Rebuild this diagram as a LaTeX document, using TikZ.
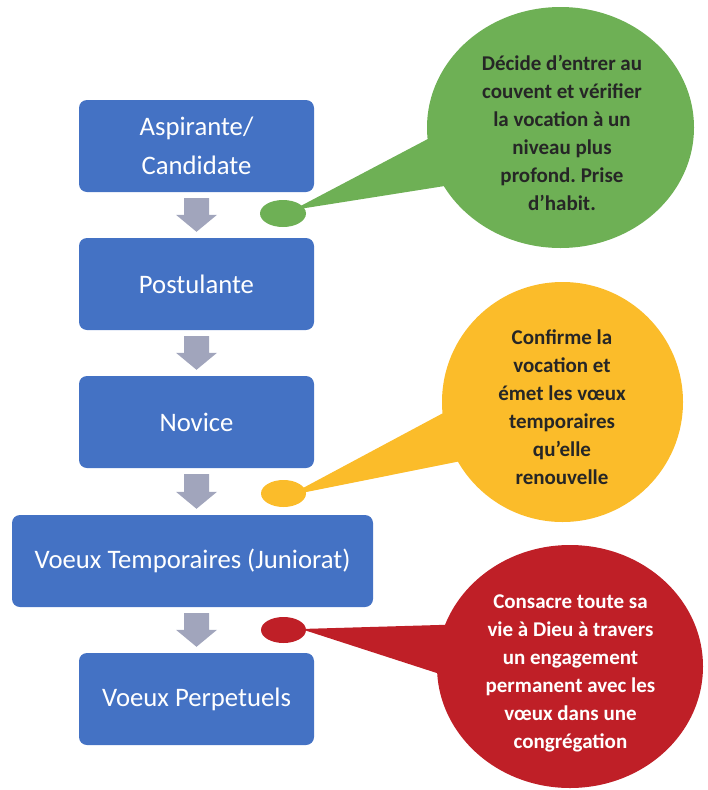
\documentclass[tikz,border=0pt]{standalone}
\usepackage{fontspec}
\setmainfont{Carlito}
\usetikzlibrary{shapes.geometric,calc}
\definecolor{boxblue}{RGB}{68,114,196}
\definecolor{arrowgrey}{RGB}{161,165,188}
\definecolor{cgreen}{RGB}{110,176,85}
\definecolor{corange}{RGB}{251,188,42}
\definecolor{cred}{RGB}{191,31,39}
\definecolor{ctext}{RGB}{38,38,38}
\frenchspacing
\begin{document}
\begin{tikzpicture}[x=1pt,y=-1pt,
  stage/.style={fill=boxblue, rounded corners=8pt, text=white, align=center,
    minimum height=92pt, inner sep=0pt, font=\fontsize{26.7}{39}\selectfont},
  bubble/.style={ellipse, inner sep=0pt},
  dot/.style={ellipse, inner sep=0pt, minimum width=45pt, minimum height=27pt},
  bubbletext/.style={align=center, inner sep=0pt,
    font=\fontsize{21}{28}\selectfont\bfseries},
  flowarrow/.style={fill=arrowgrey}
  ]
\useasboundingbox (0,0) rectangle (707,790);

% stages
\node[stage, minimum width=235pt] (b1) at (196.5,146) {Aspirante/\\Candidate};
\node[stage, minimum width=235pt] (b2) at (196.5,284) {Postulante};
\node[stage, minimum width=235pt] (b3) at (196.5,422) {Novice};
\node[stage, minimum width=361pt] (b4) at (192.5,561) {Voeux Temporaires (Juniorat)};
\node[stage, minimum width=235pt] (b5) at (196.5,699) {Voeux Perpetuels};

% block arrows
\foreach \u/\l in {b1/b2,b2/b3,b3/b4,b4/b5}{
  \fill[flowarrow]
    ($(\u.south -| b1.center)+(-12.5,6)$) --
    ($(\u.south -| b1.center)+(12.5,6)$) --
    ($(\l.north -| b1.center)+(12.5,-23)$) --
    ($(\l.north -| b1.center)+(20.5,-23)$) --
    ($(\l.north -| b1.center)+(0,-6)$) --
    ($(\l.north -| b1.center)+(-20.5,-23)$) --
    ($(\l.north -| b1.center)+(-12.5,-23)$) -- cycle;
}

% small dots
\node[dot, fill=cgreen, minimum width=46pt] (s1) at (283,213.5) {};
\node[dot, fill=corange] (s2) at (283.5,493.5) {};
\node[dot, fill=cred, minimum height=26pt] (s3) at (283.5,630) {};

% tails
\coordinate (g0) at (293,210);
\coordinate (gA) at (470,116.8);
\coordinate (gB) at (470,182);
\fill[cgreen] (g0) -- (gA) -- (gB) -- cycle;
\coordinate (o0) at (289,495.5);
\coordinate (oA) at (470,398.7);
\coordinate (oB) at (470,459.2);
\fill[corange] (o0) -- (oA) -- (oB) -- cycle;
\coordinate (r0) at (301,629);
\coordinate (rA) at (480,623.8);
\coordinate (rB) at (480,687);
\fill[cred] (r0) -- (rA) -- (rB) -- cycle;

% bubbles
\node[bubble, fill=cgreen, minimum width=267pt, minimum height=241pt] (c1) at (560.5,127.5) {};
\node[bubble, fill=corange, minimum width=241pt, minimum height=240pt] (c2) at (562.5,402) {};
\node[bubble, fill=cred, minimum width=266pt, minimum height=243pt] (c3) at (570,666.5) {};

\node[bubbletext, text=ctext] (t1) at (562,133) {Décide d’entrer au\\couvent et vérifier\\la vocation à un\\niveau plus\\profond. Prise\\d’habit.};
\node[bubbletext, text=ctext] (t2) at (562,407) {Confirme la\\vocation et\\émet les vœux\\temporaires\\qu’elle\\renouvelle};
\node[bubbletext, text=white] (t3) at (570.5,673) {Consacre toute sa\\vie à Dieu à travers\\un engagement\\permanent avec les\\vœux dans une\\congrégation};
\end{tikzpicture}
\end{document}
